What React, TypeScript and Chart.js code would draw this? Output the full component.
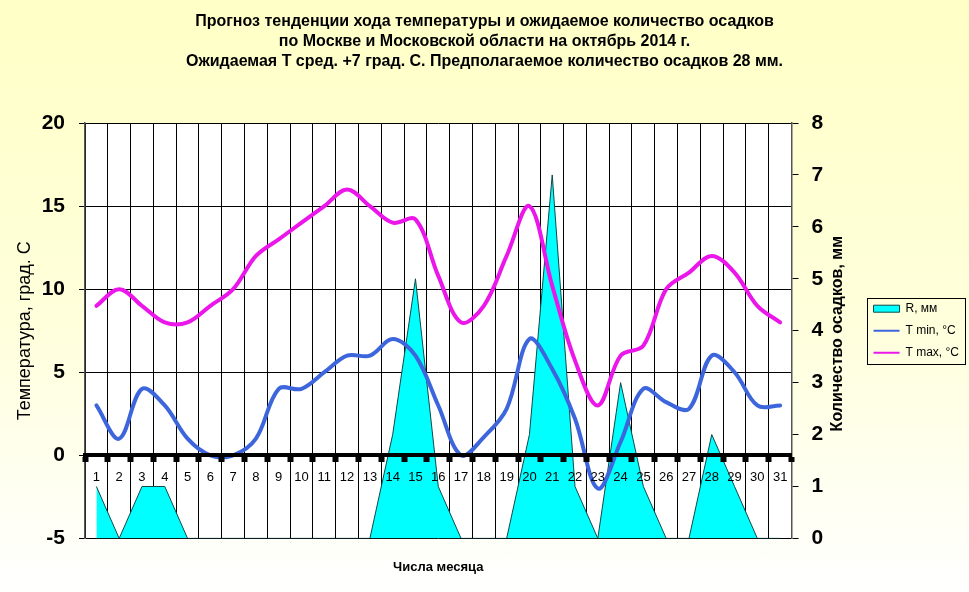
import React, { useEffect, useRef } from 'react';
import { Chart, registerables } from 'chart.js';

Chart.register(...registerables);

const FONT = '"Liberation Sans", Arial, Helvetica, sans-serif';

const titleLines = [
  'Прогноз тенденции хода температуры и ожидаемое количество осадков',
  'по Москве и Московской области на октябрь 2014 г.',
  'Ожидаемая Т сред. +7 град. С. Предполагаемое количество осадков 28 мм.',
];
const leftAxisTitle = 'Температура, град. С';
const rightAxisTitle = 'Количество осадков, мм';
const xAxisTitle = 'Числа месяца';

const days = [
  '1', '2', '3', '4', '5', '6', '7', '8', '9', '10', '11', '12', '13', '14', '15', '16',
  '17', '18', '19', '20', '21', '22', '23', '24', '25', '26', '27', '28', '29', '30', '31',
];
const precipitation = [1, 0, 1, 1, 0, 0, 0, 0, 0, 0, 0, 0, 0, 2, 5, 1, 0, 0, 0, 2, 7, 1, 0, 3, 1, 0, 0, 2, 1, 0, 0];
const tMin = [3, 1, 4, 3, 1, 0, 0, 1, 4, 4, 5, 6, 6, 7, 6, 3, 0, 1.1, 2.8, 7, 5.2, 2.2, -2, 0.8, 4, 3.2, 2.8, 6, 5, 3, 3];
const tMax = [9, 10, 9, 8, 8, 9, 10, 12, 13, 14, 15, 16, 15, 14, 14.2, 10.8, 8, 9, 12, 15, 10.2, 5.7, 3, 6, 6.6, 10, 11, 12, 11, 9, 8];

const seriesLabels = ['R, мм', 'T min, °C', 'T max, °C'];

const plotBackground = {
  id: 'plotBackground',
  beforeDraw(chart: any) {
    const { ctx, chartArea: a } = chart;
    ctx.save();
    ctx.fillStyle = '#ffffff';
    ctx.fillRect(a.left, a.top, a.right - a.left, a.bottom - a.top);
    ctx.restore();
  },
};

const rightTitlePlugin = {
  id: 'rightTitle',
  afterDraw(chart: any) {
    const s = chart.scales.y1;
    const { ctx } = chart;
    ctx.save();
    ctx.translate(s.left + 46, (s.top + s.bottom) / 2 + 3);
    ctx.rotate(-Math.PI / 2);
    ctx.font = `bold 16px ${FONT}`;
    ctx.fillStyle = '#000';
    ctx.textAlign = 'center';
    ctx.textBaseline = 'middle';
    ctx.fillText(rightAxisTitle, 0, 0);
    ctx.restore();
  },
};

const legendBorder = {
  id: 'legendBorder',
  afterDraw(chart: any) {
    const boxes = chart.legend && chart.legend.legendHitBoxes;
    if (!boxes || !boxes.length) return;
    const l = Math.min(...boxes.map((b: any) => b.left)) - 7;
    const t = Math.min(...boxes.map((b: any) => b.top)) - 5;
    const r = Math.max(...boxes.map((b: any) => b.left + b.width)) + 6;
    const bt = Math.max(...boxes.map((b: any) => b.top + b.height)) + 5;
    const { ctx } = chart;
    ctx.save();
    ctx.strokeStyle = '#000';
    ctx.lineWidth = 1;
    ctx.strokeRect(Math.round(l) + 0.5, Math.round(t) + 0.5, Math.round(r - l), Math.round(bt - t));
    ctx.restore();
  },
};

export default function App() {
  const ref = useRef<HTMLCanvasElement>(null);

  useEffect(() => {
    if (!ref.current) return;
    Chart.defaults.font.family = FONT;
    Chart.defaults.color = '#000';
    const chart = new Chart(ref.current, {
      type: 'line',
      data: {
        labels: days,
        datasets: [
          {
            label: seriesLabels[0],
            data: precipitation,
            xAxisID: 'x',
            yAxisID: 'y1',
            borderColor: '#0d4848',
            borderWidth: 1,
            backgroundColor: '#00ffff',
            fill: 'origin',
            tension: 0,
            pointRadius: 0,
            pointStyle: 'rect',
            order: 1,
          },
          {
            label: seriesLabels[1],
            data: tMin,
            xAxisID: 'x',
            yAxisID: 'y',
            borderColor: '#3d66dd',
            borderWidth: 4,
            fill: false,
            tension: 0.35,
            pointRadius: 0,
            pointStyle: 'line',
            borderCapStyle: 'round',
            borderJoinStyle: 'round',
            order: 0,
          },
          {
            label: seriesLabels[2],
            data: tMax,
            xAxisID: 'x',
            yAxisID: 'y',
            borderColor: '#ea16ea',
            borderWidth: 4,
            fill: false,
            tension: 0.35,
            pointRadius: 0,
            pointStyle: 'line',
            borderCapStyle: 'round',
            borderJoinStyle: 'round',
            order: 0,
          },
        ],
      },
      options: {
        responsive: false,
        animation: false,
        devicePixelRatio: 1,
        events: [],
        layout: { padding: 0 },
        plugins: {
          tooltip: { enabled: false },
          title: {
            display: true,
            text: titleLines,
            color: '#000',
            font: { size: 16, weight: 'bold', family: FONT, lineHeight: 1.25 },
            padding: { top: 12, bottom: 51 },
          },
          legend: {
            display: true,
            position: 'right',
            fullSize: false,
            align: 'center',
            labels: {
              usePointStyle: true,
              pointStyleWidth: 26,
              boxHeight: 7,
              padding: 10,
              color: '#000',
              font: { size: 12, family: FONT },
              sort: (a: any, b: any) => a.datasetIndex - b.datasetIndex,
              generateLabels: (c: any) => {
                const items = (Chart.defaults.plugins.legend.labels as any).generateLabels(c);
                return items.map((it: any) => ({ ...it, lineWidth: it.datasetIndex === 0 ? 1 : 2 }));
              },
            },
          },
        },
        scales: {
          xg: {
            type: 'category',
            axis: 'x',
            position: 'bottom',
            offset: true,
            grid: { offset: true, color: '#000', lineWidth: 1, drawTicks: false },
            border: { display: false },
            ticks: { display: false },
            title: {
              display: true,
              text: xAxisTitle,
              color: '#000',
              font: { size: 13, weight: 'bold', family: FONT },
              padding: { top: 21, bottom: 17 },
            },
          },
          x: {
            type: 'category',
            axis: 'x',
            position: { y: 0 } as any,
            offset: true,
            grid: {
              display: true,
              drawOnChartArea: false,
              offset: true,
              tickLength: 5,
              tickWidth: 6,
              tickColor: '#000',
              z: 2,
            },
            border: { display: true, color: '#000', width: 4, z: 2 },
            ticks: {
              color: '#000',
              font: { size: 13, family: FONT },
              padding: 9,
              autoSkip: false,
              maxRotation: 0,
              z: 2,
            },
          },
          y: {
            type: 'linear',
            position: 'left',
            min: -5,
            max: 20,
            ticks: { stepSize: 5, color: '#000', font: { size: 21, weight: 'bold', family: FONT }, padding: 14 },
            grid: { color: '#000', lineWidth: 1, tickLength: 6, tickColor: '#000' },
            border: { color: '#555', width: 1.5 },
            title: {
              display: true,
              text: leftAxisTitle,
              color: '#000',
              font: { size: 18, family: FONT },
              padding: { top: 14, bottom: 0 },
            },
            afterFit: (s: any) => {
              s.width = 85;
            },
          },
          y1: {
            type: 'linear',
            axis: 'y',
            position: 'right',
            min: 0,
            max: 8,
            ticks: { stepSize: 1, color: '#000', font: { size: 21, weight: 'bold', family: FONT }, padding: 13 },
            grid: { drawOnChartArea: false, tickLength: 7, tickColor: '#000', color: '#000' },
            border: { color: '#555', width: 1.5 },
            afterFit: (s: any) => {
              s.width = 72;
            },
          },
        },
      } as any,
      plugins: [plotBackground, rightTitlePlugin, legendBorder],
    });
    return () => chart.destroy();
  }, []);

  return (
    <div
      style={{
        position: 'absolute',
        left: 0,
        top: 0,
        width: 969,
        height: 592,
        background: 'linear-gradient(to bottom, #ffffc6 0%, #ffffdc 55%, #ffffff 100%)',
      }}
    >
      <canvas ref={ref} width={969} height={592} style={{ display: 'block', width: 969, height: 592 }} />
    </div>
  );
}
